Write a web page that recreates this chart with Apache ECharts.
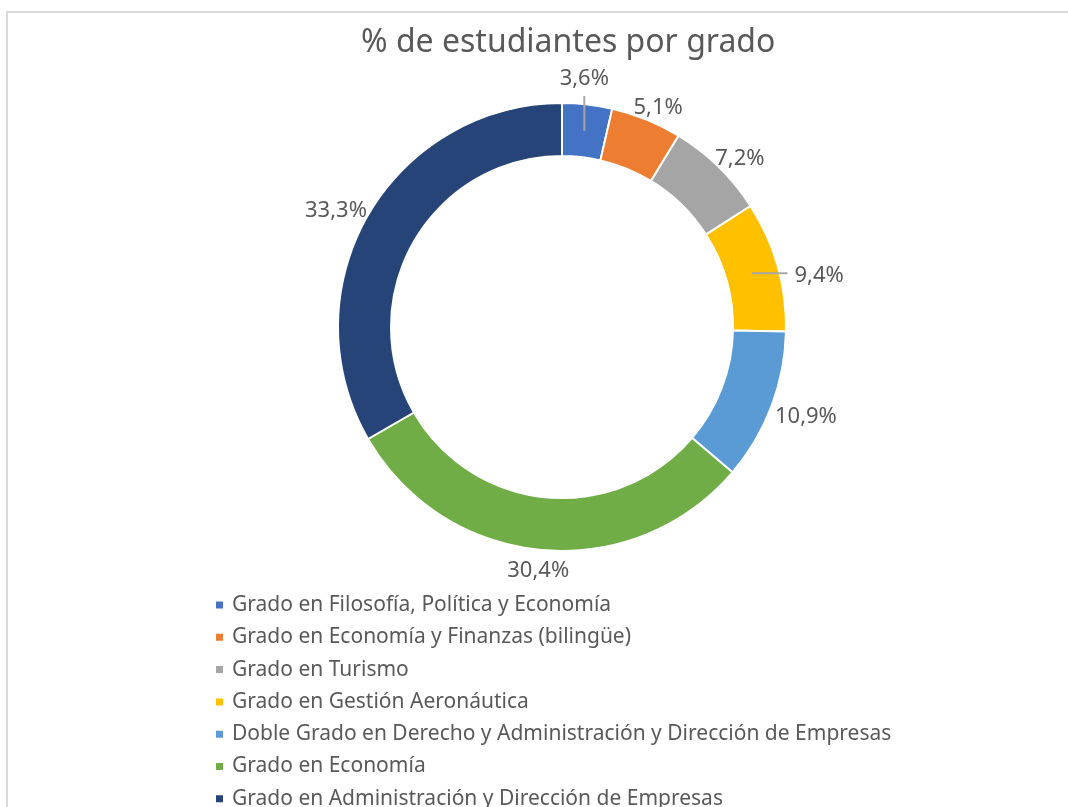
<!DOCTYPE html>
<html>
<head>
<meta charset="utf-8">
<script src="https://cdn.jsdelivr.net/npm/echarts@6/dist/echarts.min.js"></script>
<style>
  html, body { margin: 0; padding: 0; background: #fff; }
  #chart { width: 1068px; height: 807px; }
</style>
</head>
<body>
<div id="chart"></div>
<script>
// datos
const titulo = "% de estudiantes por grado";
const grados = [
  "Grado en Filosofía, Política y Economía",
  "Grado en Economía y Finanzas (bilingüe)",
  "Grado en Turismo",
  "Grado en Gestión Aeronáutica",
  "Doble Grado en Derecho y Administración y Dirección de Empresas",
  "Grado en Economía",
  "Grado en Administración y Dirección de Empresas"
];
const porcentajes = [3.6, 5.1, 7.2, 9.4, 10.9, 30.4, 33.3];
const colores = ["#4472C4", "#ED7D31", "#A5A5A5", "#FFC000", "#5B9BD5", "#70AD47", "#264478"];
// etiquetas que llevan linea guia (como en excel)
const conGuia = [true, false, false, true, false, false, false];

const cx = 562, cy = 327, rIn = 171, rOut = 224;
const fuente = "Noto Sans";
const gris = "#595959";

const total = porcentajes.reduce((a, b) => a + b, 0);

function anguloMedio(i) {
  let antes = 0;
  for (let j = 0; j < i; j++) antes += porcentajes[j];
  return (antes + porcentajes[i] / 2) / total * Math.PI * 2;
}

function textoPct(p) {
  return p.value.toFixed(1).replace(".", ",") + "%";
}

function colocarEtiqueta(params) {
  let i = params.dataIndex;
  let a = anguloMedio(i);
  let dx = Math.sin(a), dy = -Math.cos(a);
  let w = params.labelRect.width, h = params.labelRect.height;
  if (conGuia[i]) {
    let rm = (rIn + rOut) / 2;
    let mx = cx + dx * rm, my = cy + dy * rm;
    if (Math.abs(dy) > Math.abs(dx)) {
      let s = dy < 0 ? -1 : 1;
      let borde = cy + s * Math.sqrt(rOut * rOut - (mx - cx) * (mx - cx));
      let fin = borde + s * 8;
      return {
        x: mx, y: fin + s * (6 + h / 2), align: "center", verticalAlign: "middle",
        labelLinePoints: [[mx, my], [mx, fin]]
      };
    } else {
      let s = dx < 0 ? -1 : 1;
      let borde = cx + s * Math.sqrt(rOut * rOut - (my - cy) * (my - cy));
      let fin = borde + s * 8;
      return {
        x: fin + s * (7 + w / 2), y: my + 2, align: "center", verticalAlign: "middle",
        labelLinePoints: [[mx, my], [fin, my]]
      };
    }
  }
  let g = 6;
  return {
    x: cx + dx * (rOut + g) + dx * w / 2,
    y: cy + dy * (rOut + g) + dy * h / 2 + 4,
    align: "center",
    verticalAlign: "middle"
  };
}

let chart = echarts.init(document.getElementById("chart"));

let datos = grados.map(function (nombre, i) {
  return { name: nombre, value: porcentajes[i], itemStyle: { color: colores[i] } };
});

// capa de encima solo para las lineas guia (quedan sobre los sectores)
let datosGuia = grados.map(function (nombre, i) {
  return { name: nombre, value: porcentajes[i], labelLine: { show: conGuia[i] } };
});

let option = {
  backgroundColor: "#fff",
  animation: false,
  textStyle: { fontFamily: fuente },
  graphic: [{
    type: "rect",
    z: -1,
    shape: { x: 7, y: 12, width: 1200, height: 900 },
    style: { fill: "none", stroke: "#d9d9d9", lineWidth: 2 }
  }],
  title: {
    text: titulo,
    left: 356,
    top: 22,
    textStyle: { fontFamily: fuente, fontSize: 32, fontWeight: "normal", color: gris }
  },
  legend: {
    orient: "vertical",
    left: 209,
    top: 589,
    height: 400,
    icon: "rect",
    itemWidth: 9,
    itemHeight: 9,
    itemGap: 10.3,
    selectedMode: false,
    textStyle: { fontFamily: fuente, fontSize: 21, color: gris, lineHeight: 22, padding: [0, 0, 0, 3] },
    data: grados
  },
  series: [{
    type: "pie",
    z: 2,
    center: [cx, cy],
    radius: [rIn, rOut],
    startAngle: 90,
    clockwise: true,
    avoidLabelOverlap: false,
    itemStyle: { borderColor: "#fff", borderWidth: 2 },
    label: {
      show: true,
      position: "outside",
      fontFamily: fuente,
      fontSize: 22,
      color: gris,
      formatter: textoPct
    },
    labelLine: { show: false },
    labelLayout: colocarEtiqueta,
    emphasis: { disabled: true },
    data: datos
  }, {
    type: "pie",
    z: 3,
    silent: true,
    legendHoverLink: false,
    center: [cx, cy],
    radius: [rIn, rOut],
    startAngle: 90,
    clockwise: true,
    avoidLabelOverlap: false,
    itemStyle: { color: "rgba(0,0,0,0)", borderWidth: 0 },
    label: {
      show: true,
      position: "outside",
      fontFamily: fuente,
      fontSize: 22,
      color: "rgba(0,0,0,0)",
      formatter: textoPct
    },
    labelLine: { show: true, lineStyle: { color: "#a6a6a6", width: 2 } },
    labelLayout: colocarEtiqueta,
    emphasis: { disabled: true },
    data: datosGuia
  }]
};

chart.setOption(option);
</script>
</body>
</html>
